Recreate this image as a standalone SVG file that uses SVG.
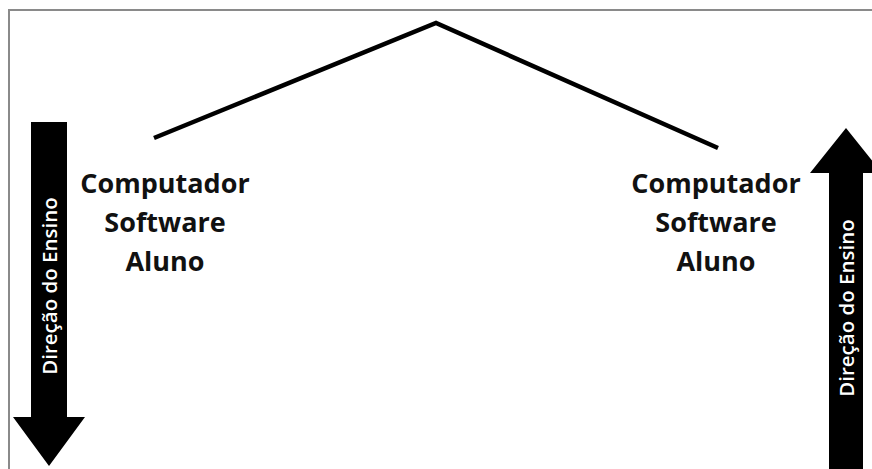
<svg xmlns="http://www.w3.org/2000/svg" width="872" height="469" viewBox="0 0 872 469">
<style>
.lbl{font-family:"Open Sans","Liberation Sans",sans-serif;font-weight:700;font-size:27px;fill:#111;text-anchor:middle}
.dir{font-family:"Open Sans","Liberation Sans",sans-serif;font-weight:600;font-size:20.5px;fill:#fff;text-anchor:middle;dominant-baseline:central}
.arrow{fill:#000}
.conn{fill:none;stroke:#000;stroke-width:4.5;stroke-linejoin:miter}
</style>
<rect width="872" height="469" fill="#fff"/>
<path d="M9,469 V10 H872" fill="none" stroke="#8a8a8a" stroke-width="2"/>
<g id="connectors">
<polyline class="conn" points="154,138 436,23 718,148"/>
</g>
<g id="arrow-left">
<polygon class="arrow" points="31,122 67,122 67,417 85,417 49,466 13,417 31,417"/>
<text class="dir" transform="translate(49,286) rotate(-90)">Direção do Ensino</text>
</g>
<g id="arrow-right">
<polygon class="arrow" points="846,128 882,173 863,173 863,469 829,469 829,173 810,173"/>
<text class="dir" transform="translate(846,308) rotate(-90)">Direção do Ensino</text>
</g>
<g id="node-left">
<text class="lbl" x="165" y="193">Computador</text>
<text class="lbl" x="165" y="232">Software</text>
<text class="lbl" x="165" y="271">Aluno</text>
</g>
<g id="node-right">
<text class="lbl" x="716" y="193">Computador</text>
<text class="lbl" x="716" y="232">Software</text>
<text class="lbl" x="716" y="271">Aluno</text>
</g>
</svg>
